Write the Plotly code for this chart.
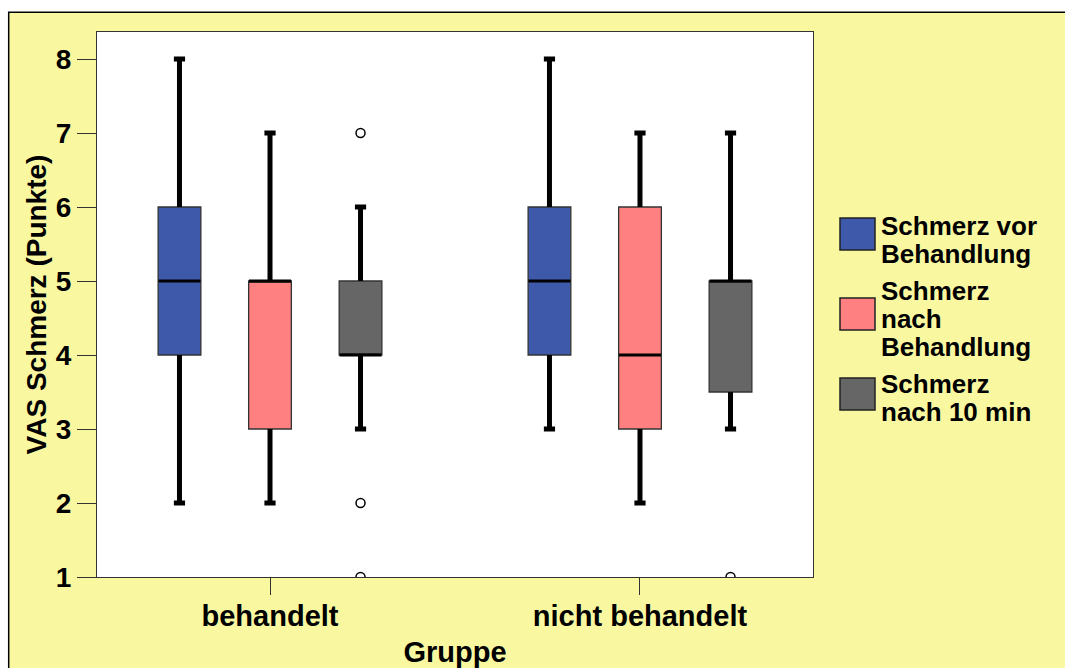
import plotly.graph_objects as go

# ---------------- data ----------------
groups = ["behandelt", "nicht behandelt"]
series = ["Schmerz vor Behandlung", "Schmerz nach Behandlung", "Schmerz nach 10 min"]
legend_lines = [["Schmerz vor", "Behandlung"], ["Schmerz", "nach", "Behandlung"], ["Schmerz", "nach 10 min"]]
colors = ["#3F59AA", "#FF8080", "#666666"]

# per series: values for [behandelt, nicht behandelt]
lower = [[2, 3], [2, 2], [3, 3]]
q1 = [[4, 4], [3, 3], [4, 3.5]]
median = [[5, 5], [5, 4], [4, 5]]
q3 = [[6, 6], [5, 6], [5, 5]]
upper = [[8, 8], [7, 7], [6, 7]]
# outliers (group, value)
outlier_x = [[], [], ["behandelt", "behandelt", "behandelt", "nicht behandelt"]]
outlier_y = [[], [], [7, 2, 1, 1]]

y_ticks = [1, 2, 3, 4, 5, 6, 7, 8]

# ---------------- layout geometry ----------------
OFF = 0  # page body margin (removed by post_script)
W, H = 1065, 668
# plot area in screen pixels
SL, SR, ST, SB = 97, 813, 32, 577
L, R, T, B = SL - OFF, SR - OFF, ST - OFF, SB - OFF
PW, PH = R - L, B - T


def px_x(sx):
    return (sx - OFF - L) / PW


def px_y(sy):
    return (B - (sy - OFF)) / PH


FONT = "Arial, Liberation Sans, sans-serif"
YEL = "#F9F8A1"

fig = go.Figure()

for i, name in enumerate(series):
    og = "s%d" % i
    fig.add_trace(go.Box(
        x=groups, q1=q1[i], median=median[i], q3=q3[i],
        lowerfence=q1[i], upperfence=q3[i],
        name=name, offsetgroup=og, alignmentgroup="a",
        fillcolor=colors[i], line=dict(color="#333333", width=1.3),
        whiskerwidth=0, boxpoints=False, showlegend=False, hoverinfo="skip",
    ))

for i, name in enumerate(series):
    og = "s%d" % i
    # upper whisker + cap
    fig.add_trace(go.Scatter(
        x=groups, y=upper[i], mode="markers", offsetgroup=og, alignmentgroup="a",
        orientation="v",
        marker=dict(symbol="line-ew", size=8, color="black", line=dict(width=5, color="black")),
        error_y=dict(type="data", symmetric=False, array=[0, 0],
                     arrayminus=[u - q for u, q in zip(upper[i], q3[i])],
                     thickness=5, width=0, color="black"),
        showlegend=False, hoverinfo="skip",
    ))
    # lower whisker + cap
    fig.add_trace(go.Scatter(
        x=groups, y=lower[i], mode="markers", offsetgroup=og, alignmentgroup="a",
        orientation="v",
        marker=dict(symbol="line-ew", size=8, color="black", line=dict(width=5, color="black")),
        error_y=dict(type="data", symmetric=False, arrayminus=[0, 0],
                     array=[q - lo for q, lo in zip(q1[i], lower[i])],
                     thickness=5, width=0, color="black"),
        showlegend=False, hoverinfo="skip",
    ))
    # median line
    fig.add_trace(go.Scatter(
        x=groups, y=median[i], mode="markers", offsetgroup=og, alignmentgroup="a",
        orientation="v",
        marker=dict(symbol="line-ew", size=30, color="black", line=dict(width=3, color="black")),
        showlegend=False, hoverinfo="skip",
    ))
    # outliers
    fig.add_trace(go.Scatter(
        x=outlier_x[i] if outlier_x[i] else [groups[0]],
        y=outlier_y[i] if outlier_y[i] else [None],
        mode="markers", offsetgroup=og, alignmentgroup="a", orientation="v",
        marker=dict(symbol="circle-open", size=9, color="black", line=dict(width=1.5, color="black")),
        cliponaxis=True, showlegend=False, hoverinfo="skip",
    ))

shapes = [
    # white strips outside the outer frame
    dict(type="rect", xref="paper", yref="paper", x0=px_x(-5), x1=px_x(W + 20), y0=px_y(12), y1=px_y(-5),
         fillcolor="white", line=dict(width=0), layer="above"),
    dict(type="rect", xref="paper", yref="paper", x0=px_x(-5), x1=px_x(8), y0=px_y(H + 20), y1=px_y(-5),
         fillcolor="white", line=dict(width=0), layer="above"),
    # outer frame lines
    dict(type="line", xref="paper", yref="paper", x0=px_x(8.7), x1=px_x(8.7), y0=px_y(12), y1=px_y(H + 20),
         line=dict(color="black", width=1.5), layer="above"),
    dict(type="line", xref="paper", yref="paper", x0=px_x(8), x1=px_x(W + 20), y0=px_y(12.3), y1=px_y(12.3),
         line=dict(color="black", width=1.5), layer="above"),
]

annotations = []
sq_centers = [234, 314, 394]
line_starts = [226, 291, 384]
LINE_STEP = 28
for i in range(len(series)):
    c = sq_centers[i]
    shapes.append(dict(type="rect", xref="paper", yref="paper",
                       x0=px_x(840), x1=px_x(875), y0=px_y(c + 16), y1=px_y(c - 16),
                       fillcolor=colors[i], line=dict(color="#222222", width=1.5), layer="above"))
    for k, txt in enumerate(legend_lines[i]):
        annotations.append(dict(
            text=txt, xref="paper", yref="paper", x=px_x(879), y=px_y(line_starts[i] + k * LINE_STEP),
            xanchor="left", yanchor="middle", showarrow=False,
            font=dict(family=FONT, size=26, color="black", weight="bold"),
        ))

fig.update_layout(
    width=W, height=H, autosize=False,
    margin=dict(l=L, r=W - R, t=T, b=H - B, pad=0, autoexpand=False),
    paper_bgcolor=YEL, plot_bgcolor="white",
    boxmode="group", boxgap=0.266, boxgroupgap=0.528,
    scattermode="group", scattergap=0.266,
    showlegend=False,
    shapes=shapes, annotations=annotations,
    font=dict(family=FONT, color="black"),
    xaxis=dict(
        type="category", categoryorder="array", categoryarray=groups,
        range=[-0.4676, 1.4676],
        showline=True, linecolor="#333333", linewidth=1.3, mirror=True,
        ticks="outside", ticklen=17, tickcolor="#333333", tickwidth=1.3,
        ticklabelstandoff=-4,
        showgrid=False, zeroline=False, automargin=False,
        tickfont=dict(family=FONT, size=29, color="black", weight="bold"),
        title=dict(text="Gruppe", standoff=15,
                   font=dict(family=FONT, size=29, color="black", weight="bold")),
    ),
    yaxis=dict(
        range=[1, 8 + 27 / 74], tickvals=y_ticks,
        showline=True, linecolor="#333333", linewidth=1.3, mirror=True,
        ticks="outside", ticklen=19, tickcolor="#333333", tickwidth=1.3,
        showgrid=False, zeroline=False, automargin=False,
        tickfont=dict(family=FONT, size=28, color="black", weight="bold"),
        title=dict(text="VAS Schmerz (Punkte)", standoff=0,
                   font=dict(family=FONT, size=28, color="black", weight="bold")),
    ),
)

fig.write_html(
    "out.html",
    config={"responsive": False, "displayModeBar": False},
    post_script="document.body.style.margin='0';",
)
